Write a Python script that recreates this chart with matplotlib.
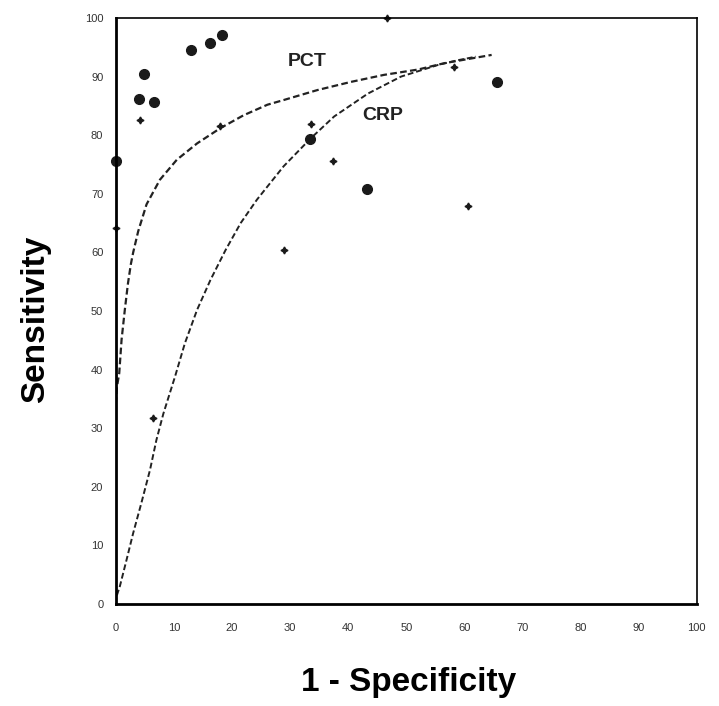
import matplotlib
matplotlib.use("Agg")
import matplotlib.pyplot as plt
import numpy as np

plt.rcParams['font.family'] = ['Liberation Sans', 'DejaVu Sans']

# ---------------------------------- data ----------------------------------

# PCT study points (large dots)
pct_x = [0, 4.0, 4.8, 6.6, 13.0, 16.3, 18.3, 33.4, 43.3, 65.7]
pct_y = [75.6, 86.2, 90.4, 85.7, 94.5, 95.7, 97.1, 79.4, 70.8, 89.1]

# CRP study points (small crosses)
crp_x = [0, 4.2, 18.0, 33.6, 37.4, 28.9, 60.7, 6.4, 58.3, 46.7]
crp_y = [64.2, 82.6, 81.6, 81.9, 75.6, 60.4, 67.9, 31.7, 91.6, 100.0]

# summary ROC curves
pct_curve_x = [0, 0, 0, 0.2, 0.6, 1.0, 1.56, 2.1, 2.6, 3.0, 3.86, 5.3, 7.6, 10.5, 14.0,
               18.0, 22.0, 26.1, 28.9, 34.7, 40.5, 46.2, 52.0, 56.6, 64.7]
pct_curve_y = [0, 20, 34, 37.0, 39.4, 45.1, 50.2, 54.7, 58.0, 60.0, 63.6, 68.2, 72.4, 75.8, 78.6,
               81.2, 83.4, 85.2, 86.0, 87.7, 89.1, 90.3, 91.2, 92.3, 93.7]

crp_curve_x = [0, 0.1, 0.7, 1.85, 3.0, 4.4, 5.9, 7.0, 8.2, 10.2, 11.9, 14.0, 16.3, 18.9,
               21.5, 24.3, 28.9, 33.6, 37.6, 43.4, 49.1, 55.5, 58.9, 62.0]
crp_curve_y = [0, 1.2, 3.0, 7.5, 12.1, 17.2, 22.9, 28.0, 32.5, 38.8, 44.5, 50.2, 55.3, 60.4,
               65.0, 69.0, 74.7, 79.5, 83.2, 87.1, 90.0, 92.0, 92.8, 93.4]

ticks = np.arange(0, 101, 10)

# ---------------------------------- figure ----------------------------------

fig = plt.figure(figsize=(7.19, 7.06), dpi=100)
ax = fig.add_axes([0.161, 0.1445, 0.808, 0.830])

ax.plot(pct_curve_x, pct_curve_y, color='#222222', lw=1.6, ls=(0, (3, 1.5)))
ax.plot(crp_curve_x, crp_curve_y, color='#222222', lw=1.4, ls=(0, (3, 1.5)))

ax.plot(pct_x, pct_y, 'o', color='#1a1a1a', markersize=7, clip_on=False)
ax.plot(crp_x, crp_y, marker=(4, 1, 0), ls='none', color='#1a1a1a', markersize=5, clip_on=False)

ax.text(33, 92.5, "PCT", fontsize=14, fontweight='bold', ha='center', va='center', color='#222222')
ax.text(46, 83.4, "CRP", fontsize=14, fontweight='bold', ha='center', va='center', color='#222222')

ax.set_xlim(0, 100)
ax.set_ylim(0, 100)
ax.set_xticks(ticks)
ax.set_yticks(ticks)
ax.tick_params(axis='both', length=0, labelsize=8, labelcolor='#333333')
ax.tick_params(axis='y', pad=9)
ax.tick_params(axis='x', pad=14)

for side in ['left', 'bottom']:
    ax.spines[side].set_linewidth(2.0)
for side in ['top', 'right']:
    ax.spines[side].set_linewidth(1.2)

fig.text(0.569, 0.033, "1 - Specificity", fontsize=24, fontweight='bold', ha='center', va='center')
fig.text(0.049, 0.548, "Sensitivity", fontsize=24, fontweight='bold', ha='center', va='center', rotation=90)

plt.savefig("out.png", dpi=100)
